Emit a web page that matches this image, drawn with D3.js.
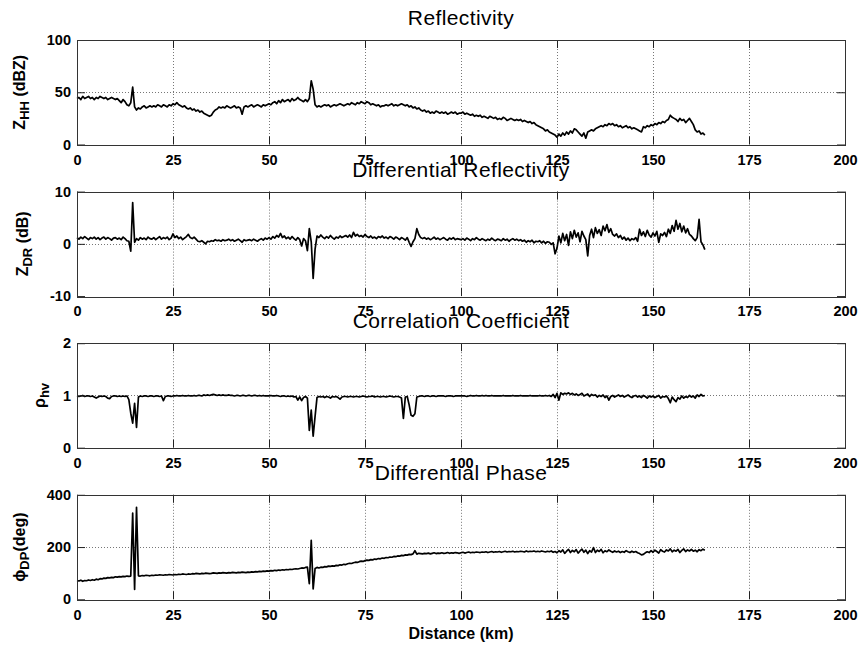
<!DOCTYPE html>
<html>
<head>
<meta charset="utf-8">
<script src="https://cdn.jsdelivr.net/npm/d3@7"></script>
<style>
  body { margin: 0; background: #fff; }
  svg { display: block; font-family: "Liberation Sans", Arial, Helvetica, sans-serif; }
</style>
</head>
<body>
<svg id="chart" width="863" height="648"></svg>
<script>
// Range gates, one every 0.5 km out to 163.5 km.
var distance = d3.range(0, 164, 0.5);

var xTicks = [0, 25, 50, 75, 100, 125, 150, 175, 200];

// Reflectivity Z_HH (dBZ), 10 gates per row (5 km).
var zhh = [
  44,45,43,46,44,45,46,44,45,43,
  45,44,46,45,44,45,43,44,45,44,
  43,44,42,40,43,41,38,37,40,55,
  36,33,35,34,36,37,35,36,37,36,
  37,36,38,37,36,38,37,36,38,37,
  39,38,40,38,37,36,37,35,34,35,
  33,34,32,33,31,32,30,29,28,27,
  28,31,33,34,36,35,36,35,37,36,
  35,36,37,35,36,35,29,36,37,36,
  37,38,36,37,38,37,36,38,37,38,
  39,38,40,41,39,42,40,43,41,42,
  43,41,44,42,43,45,43,42,41,43,
  41,44,61,53,38,36,37,36,37,38,
  37,38,36,37,38,37,38,39,38,37,
  38,39,38,40,39,38,40,39,41,40,
  39,41,40,38,39,38,37,38,36,37,
  37,38,37,38,39,37,38,37,38,39,
  38,37,38,36,37,35,36,34,35,33,
  32,33,31,32,30,31,30,32,31,30,
  31,30,31,29,30,31,30,31,29,30,
  30,31,29,30,29,28,29,27,28,27,
  28,26,27,26,25,27,26,25,26,24,
  25,24,26,25,23,24,25,24,23,24,
  23,24,22,23,22,21,22,20,21,19,
  18,17,16,15,13,14,12,11,10,9,
  7,10,8,11,9,12,10,13,11,15,
  14,12,10,8,11,6,12,13,14,13,
  15,16,17,18,17,19,18,20,19,20,
  18,19,17,18,16,17,18,16,17,15,
  16,15,14,13,12,17,16,18,17,19,
  18,20,19,21,20,22,21,23,24,28,
  26,25,24,22,25,23,24,21,23,25,
  22,19,14,12,13,10,11,9
];

// Differential reflectivity Z_DR (dB).
var zdr = [
  1.2,0.9,1.3,1.0,1.4,1.1,0.8,1.2,1.0,1.3,
  0.9,1.2,0.8,1.1,1.3,0.9,1.2,1.0,0.7,1.1,
  1.2,0.9,1.1,0.8,1.3,1.0,0.6,0.5,-1.4,7.9,
  0.3,1.0,0.7,1.2,0.9,1.1,0.8,1.3,1.0,0.9,
  1.2,0.8,1.1,1.4,0.9,1.2,1.0,1.3,0.8,1.1,
  1.9,1.2,1.5,1.0,1.3,0.8,1.1,1.4,1.8,1.2,
  1.0,1.3,0.9,0.5,0.4,0.6,0.3,0.0,0.5,0.4,
  0.6,0.5,0.8,0.6,0.7,0.5,0.8,0.6,0.7,0.9,
  0.6,0.8,0.5,0.7,0.9,0.6,0.3,0.8,0.6,0.7,
  0.8,0.6,0.9,0.7,0.5,0.8,1.0,0.7,1.1,0.9,
  1.2,0.9,1.4,1.1,1.6,1.3,2.0,1.2,1.5,1.0,
  1.3,0.9,1.4,1.0,0.7,1.2,0.8,-0.4,1.0,0.6,
  -1.3,2.9,0.4,-6.6,-1.0,1.5,1.2,1.7,1.3,1.0,
  1.4,1.1,1.6,1.2,0.9,1.3,1.1,1.5,1.2,1.4,
  1.6,1.3,1.7,1.2,2.2,1.5,1.8,1.4,1.6,1.3,
  1.8,1.4,1.2,1.5,1.1,1.3,1.0,1.4,1.2,1.5,
  1.1,1.3,1.0,1.4,1.2,0.9,1.3,1.1,0.8,1.2,
  1.0,0.7,1.2,0.3,-0.5,0.4,1.0,2.9,1.8,1.2,
  1.0,1.2,0.9,1.1,0.8,1.0,1.3,0.9,1.1,0.8,
  1.0,1.2,0.9,0.7,1.1,0.9,1.2,0.8,1.0,0.9,
  0.8,1.0,0.7,1.1,0.9,0.6,1.0,0.8,1.2,0.9,
  0.7,1.0,0.8,0.6,0.9,0.7,1.1,0.8,0.6,0.9,
  0.8,0.6,1.0,0.7,0.9,0.5,0.8,1.0,0.7,0.9,
  0.6,0.8,0.5,0.7,0.3,0.6,0.4,0.7,0.2,0.5,
  0.4,0.6,0.2,0.5,0.1,0.4,0.3,-0.1,0.2,-1.9,
  -0.8,1.5,0.2,2.0,0.6,1.8,-0.3,2.3,1.0,2.6,
  1.3,2.1,0.4,2.4,1.5,0.8,-2.3,1.6,2.8,1.2,
  3.1,2.0,2.7,1.6,3.4,2.5,3.7,2.2,2.9,1.8,
  1.5,1.9,1.2,1.6,0.9,1.3,0.7,1.1,0.6,1.0,
  0.8,1.2,0.5,2.8,1.6,2.3,1.4,2.6,1.7,1.3,
  2.1,1.5,2.4,0.3,1.9,1.6,2.2,1.4,2.8,2.0,
  3.5,2.4,4.5,2.8,3.9,2.3,3.4,2.1,2.9,1.8,
  1.5,1.0,0.6,1.2,4.7,0.4,-0.2,-1.1
];

// Correlation coefficient rho_hv.
var rhohv = [
  0.99,0.98,0.99,1.00,0.98,0.99,0.99,0.98,0.99,0.97,
  0.95,0.97,0.99,0.98,0.99,0.98,0.95,0.94,0.98,0.99,
  0.99,0.98,0.99,0.98,0.99,0.98,0.99,0.92,0.66,0.47,
  0.85,0.39,0.97,0.99,0.98,0.99,0.99,0.98,0.99,0.99,
  0.98,0.99,0.99,0.98,0.99,0.90,0.98,0.99,0.99,0.98,
  0.99,0.99,1.00,0.99,0.99,1.00,0.99,0.99,1.00,0.99,
  0.99,1.00,0.99,1.00,1.00,0.99,1.01,1.00,1.01,1.00,
  1.01,1.02,1.01,1.00,1.01,1.00,1.01,1.00,1.00,1.01,
  1.00,1.00,0.99,1.00,1.00,0.99,1.00,1.00,0.99,1.00,
  1.00,0.99,1.00,1.00,0.99,1.00,0.99,1.00,0.99,0.99,
  0.99,1.00,0.99,0.99,1.00,0.99,0.98,0.99,0.99,0.98,
  0.99,0.98,0.99,0.97,0.98,0.91,0.97,0.90,0.96,0.98,
  0.95,0.33,0.72,0.22,0.60,0.96,0.98,0.97,0.98,0.96,
  0.98,0.97,0.95,0.98,0.97,0.98,0.96,0.93,0.97,0.98,
  0.98,0.97,0.98,0.98,0.97,0.98,0.98,0.97,0.98,0.99,
  0.98,0.97,0.98,0.98,0.99,0.97,0.98,0.98,0.97,0.98,
  0.98,0.97,0.98,0.99,0.98,0.97,0.98,0.98,0.97,0.95,
  0.56,0.97,0.98,0.82,0.62,0.60,0.65,0.97,0.98,0.99,
  0.99,0.98,0.99,0.99,0.98,0.99,0.99,0.98,0.99,0.99,
  0.99,0.99,0.98,0.99,0.99,0.99,0.98,0.99,0.99,0.99,
  0.99,0.99,0.99,0.98,0.99,1.00,0.99,0.99,1.00,0.99,
  0.99,1.00,0.99,1.00,0.99,0.99,1.00,0.99,0.99,0.99,
  0.99,0.99,1.00,0.99,0.99,0.99,0.99,1.00,0.99,0.99,
  0.99,1.00,0.99,0.99,0.99,0.99,1.00,0.99,0.99,0.99,
  0.99,1.00,0.99,0.99,1.00,0.99,1.00,0.98,1.02,0.96,
  1.04,0.91,1.05,1.02,1.04,1.03,1.05,1.02,1.04,1.01,
  1.03,1.00,1.02,1.04,0.99,1.01,1.03,0.98,1.02,1.00,
  1.01,0.97,1.00,0.98,1.01,0.96,0.99,0.91,0.98,1.00,
  0.97,0.99,1.01,0.98,1.00,0.97,0.99,1.01,0.98,0.96,
  0.99,1.00,0.97,0.99,0.96,1.00,0.98,0.95,0.99,0.97,
  0.99,0.96,0.98,1.00,0.95,0.98,0.97,0.99,0.94,0.86,
  0.97,0.92,0.88,0.96,0.93,0.99,0.95,0.98,0.96,1.00,
  0.97,0.99,0.95,1.01,0.98,1.02,0.99,1.00
];

// Differential phase phi_DP (deg).
var phidp = [
  72,70,73,69,72,71,74,72,75,73,
  77,75,79,78,81,80,83,82,84,83,
  86,85,87,86,88,87,89,88,89,330,
  38,352,90,89,91,90,92,91,90,92,
  91,93,92,94,93,92,94,93,95,94,
  93,95,94,96,95,97,96,95,97,96,
  98,97,99,98,97,99,98,100,99,98,
  99,101,100,99,101,100,102,101,100,102,
  101,103,102,101,103,102,104,103,102,104,
  103,105,104,106,105,107,106,108,107,109,
  108,110,109,111,110,112,111,113,112,114,
  113,115,114,116,117,116,118,120,119,122,
  123,60,226,40,118,122,120,123,122,125,
  124,127,126,128,127,130,129,132,131,134,
  133,136,138,137,140,142,141,144,146,145,
  148,150,149,152,151,154,153,156,155,158,
  157,160,159,162,161,164,163,166,165,168,
  167,170,169,172,171,174,186,173,176,175,
  174,176,175,177,174,176,178,175,177,176,
  178,176,177,179,176,178,177,179,178,176,
  178,180,177,179,181,178,180,179,181,180,
  179,181,180,182,179,181,183,180,182,181,
  183,180,182,184,181,183,182,184,181,183,
  182,184,183,181,185,182,184,183,185,182,
  184,182,185,183,181,184,182,185,180,183,
  178,186,181,189,176,184,191,179,187,182,
  190,177,185,192,180,188,175,186,181,198,
  179,188,183,191,178,186,182,189,184,180,
  185,181,184,179,183,180,186,182,179,184,
  180,183,178,175,170,172,178,182,179,186,
  180,188,183,177,190,184,181,189,185,193,
  182,188,184,191,179,187,193,183,189,185,
  191,184,188,182,190,186,192,188
];

var titles = ["Reflectivity", "Differential Reflectivity", "Correlation Coefficient", "Differential Phase"];
var yLabels = [["Z", "HH", " (dBZ)"], ["Z", "DR", " (dB)"], ["\u03c1", "hv", ""], ["\u03d5", "DP", "(deg)"]];
var yDomains = [[0, 100], [-10, 10], [0, 2], [0, 400]];
var yTicks = [[0, 50, 100], [-10, 0, 10], [0, 1, 2], [0, 200, 400]];
var series = [zhh, zdr, rhohv, phidp];

var svg = d3.select("#chart");

var left = 77, right = 845,
    firstTop = 40, panelStep = 151.6, panelHeight = 104.5,
    tickLen = 8;
// where the rotated y label baseline sits
var labelX = [25, 28, 45, 25];

var x = d3.scaleLinear()
  .domain([0, 200])
  .range([left, right]);

series.forEach((values, i) => {
  var top = firstTop + i * panelStep,
      bottom = top + panelHeight;

  var y = d3.scaleLinear()
    .domain(yDomains[i])
    .range([bottom, top]);

  var g = svg.append("g").attr("class", "panel");

  // dotted grid at the inner ticks
  var grid = g.append("g")
    .attr("stroke", "#777")
    .attr("stroke-width", 1)
    .attr("stroke-dasharray", "1,2");

  grid.selectAll(".gx")
    .data(xTicks.slice(1, -1))
    .enter().append("line")
      .attr("x1", d => Math.round(x(d)) + 0.5)
      .attr("x2", d => Math.round(x(d)) + 0.5)
      .attr("y1", top)
      .attr("y2", bottom);

  grid.selectAll(".gy")
    .data(yTicks[i].slice(1, -1))
    .enter().append("line")
      .attr("x1", left)
      .attr("x2", right)
      .attr("y1", d => Math.round(y(d)) + 0.5)
      .attr("y2", d => Math.round(y(d)) + 0.5);

  var line = d3.line()
    .x((d, k) => x(distance[k]))
    .y(d => y(d));

  g.append("path")
    .datum(values)
    .attr("fill", "none")
    .attr("stroke", "#000")
    .attr("stroke-width", 1.7)
    .attr("stroke-linejoin", "round")
    .attr("d", line);

  // axes, ticks pointing inward
  var bottomAxis = d3.axisBottom(x).tickValues(xTicks)
    .tickSizeInner(-tickLen).tickSizeOuter(0).tickPadding(10);
  var topAxis = d3.axisTop(x).tickValues(xTicks)
    .tickSizeInner(-tickLen).tickSizeOuter(0).tickFormat("");
  var leftAxis = d3.axisLeft(y).tickValues(yTicks[i])
    .tickSizeInner(-tickLen).tickSizeOuter(0).tickPadding(6)
    .tickFormat(d => String(d));
  var rightAxis = d3.axisRight(y).tickValues(yTicks[i])
    .tickSizeInner(-tickLen).tickSizeOuter(0).tickFormat("");

  [[bottomAxis, 0, bottom], [topAxis, 0, top], [leftAxis, left, 0], [rightAxis, right, 0]]
    .forEach(a => {
      var ag = g.append("g")
        .attr("transform", "translate(" + a[1] + "," + a[2] + ")")
        .call(a[0]);
      ag.select(".domain").remove();
      ag.selectAll(".tick line").attr("stroke", "#222");
      ag.selectAll(".tick text")
        .attr("fill", "#000")
        .attr("font-size", 14.5)
        .attr("font-weight", "bold")
        .attr("font-family", "Liberation Sans, Arial, sans-serif");
    });

  g.append("rect")
    .attr("x", left + 0.5)
    .attr("y", Math.round(top) + 0.5)
    .attr("width", right - left)
    .attr("height", Math.round(panelHeight))
    .attr("fill", "none")
    .attr("stroke", "#333");

  g.append("text")
    .attr("x", (left + right) / 2)
    .attr("y", top - 15)
    .attr("text-anchor", "middle")
    .attr("font-size", 21)
    .attr("letter-spacing", 0.4)
    .text(titles[i]);

  var lab = g.append("text")
    .attr("transform", "translate(" + labelX[i] + "," + (top + panelHeight / 2) + ") rotate(-90)")
    .attr("text-anchor", "middle")
    .attr("font-size", 16)
    .attr("font-weight", "bold");
  lab.append("tspan").text(yLabels[i][0]);
  lab.append("tspan").attr("dy", 4).attr("font-size", 13).text(yLabels[i][1]);
  if (yLabels[i][2]) {
    lab.append("tspan").attr("dy", -4).text(yLabels[i][2]);
  }
});

svg.append("text")
  .attr("x", (left + right) / 2)
  .attr("y", 639)
  .attr("text-anchor", "middle")
  .attr("font-size", 16)
  .attr("font-weight", "bold")
  .text("Distance (km)");
</script>
</body>
</html>
